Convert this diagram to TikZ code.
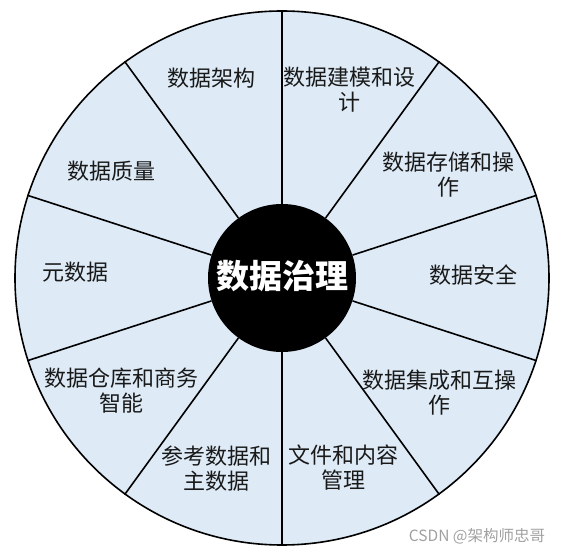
\documentclass[tikz,border=0pt]{standalone}
\usepackage{fontspec}
\setmainfont{Noto Sans CJK SC}
\definecolor{segfill}{RGB}{222,235,247}
\definecolor{txt}{RGB}{25,25,25}
\definecolor{wm}{RGB}{160,160,160}
\tikzset{
  wheel/.style={circle, draw=black, line width=1.6pt, fill=segfill, minimum size=534pt, inner sep=0pt},
  hubnode/.style={circle, fill=black, minimum size=148pt, inner sep=0pt, text=white, font=\fontsize{33}{36}\selectfont\bfseries},
  spoke/.style={draw=black, line width=1.6pt},
  label/.style={align=center, inner sep=0pt, text=txt, font=\fontsize{22}{25}\selectfont},
  wmark/.style={inner sep=0pt, text=wm, font=\fontsize{15.5}{18}\selectfont}
}
\begin{document}
\begin{tikzpicture}[x=1pt,y=-1pt]
\useasboundingbox (0,0) rectangle (566,553);
\node[wheel] (outer) at (282,278) {};
\node[hubnode] (hub) at (282,278) {};
\foreach \a in {90,54,18,-18,-54,-90,-126,-162,162,126}{
  \draw[spoke] (hub.\a) -- (outer.\a);
}
\node[hubnode, fill=none, minimum size=0pt] (title) at (282,276) {数据治理};
\node[label] (l1) at (211,78) {数据架构};
\node[label] (l2) at (349,89.2) {数据建模和设\\计};
\node[label] (l3) at (448.3,174.2) {数据存储和操\\作};
\node[label] (l4) at (473,275) {数据安全};
\node[label] (l5) at (439,392.5) {数据集成和互操\\作};
\node[label] (l6) at (343.8,467.5) {文件和内容\\管理};
\node[label] (l7) at (216.7,469) {参考数据和\\主数据};
\node[label] (l8) at (122,390.5) {数据仓库和商务\\智能};
\node[label] (l9) at (75.8,271.7) {元数据};
\node[label] (l10) at (111,170.7) {数据质量};
\node[wmark] (wm) at (477,536) {CSDN @架构师忠哥};
\end{tikzpicture}
\end{document}
